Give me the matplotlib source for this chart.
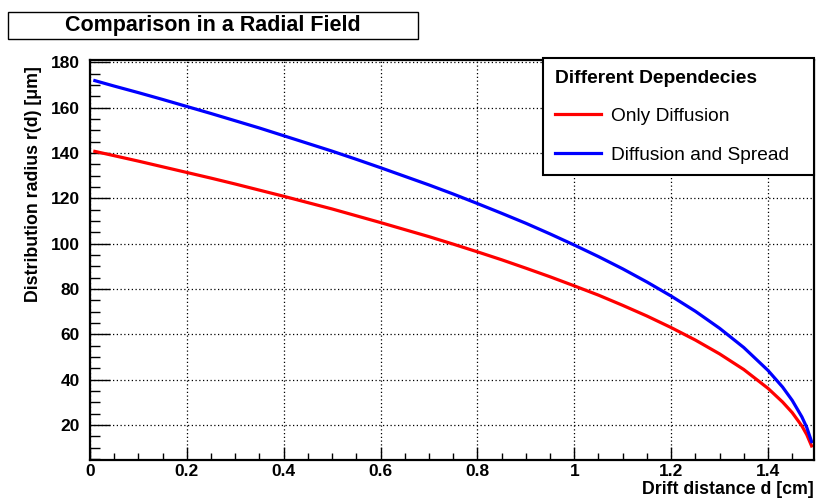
import matplotlib
matplotlib.use("Agg")
import matplotlib.pyplot as plt
from matplotlib.patches import Rectangle
from matplotlib.ticker import MultipleLocator

plt.rcParams['font.family'] = ['Liberation Sans', 'DejaVu Sans']

# drift distance d [cm]
distancia = [0.01, 0.05, 0.10, 0.15, 0.20, 0.25, 0.30, 0.35, 0.40, 0.45,
             0.50, 0.55, 0.60, 0.65, 0.70, 0.75, 0.80, 0.85, 0.90, 0.95,
             1.00, 1.05, 1.10, 1.15, 1.20, 1.25, 1.30, 1.35, 1.40, 1.43,
             1.45, 1.47, 1.48, 1.49]
# r(d) [um], only diffusion
so_difusao = [140.7, 138.8, 136.4, 133.9, 131.4, 128.9, 126.3, 123.6, 120.9, 118.1,
              115.3, 112.3, 109.3, 106.2, 103.1, 99.8, 96.4, 92.9, 89.2, 85.4,
              81.4, 77.3, 72.8, 68.1, 63.0, 57.5, 51.4, 44.5, 36.2, 30.2,
              25.5, 19.6, 15.8, 10.8]
# r(d) [um], diffusion and spread
difusao_spread = [171.9, 169.5, 166.6, 163.6, 160.5, 157.4, 154.2, 151.0, 147.6, 144.2,
                  140.8, 137.2, 133.5, 129.7, 125.9, 121.9, 117.7, 113.4, 109.0, 104.3,
                  99.4, 94.3, 88.9, 83.1, 76.9, 70.2, 62.7, 54.2, 44.1, 36.8,
                  30.9, 23.6, 19.0, 12.7]

fig = plt.figure(figsize=(8.16, 5.0), dpi=100)
ax = fig.add_axes([90/816, 40/500, 724/816, 400/500])

ax.plot(distancia, so_difusao, color="#ff0000", lw=2.3, label="Only Diffusion")
ax.plot(distancia, difusao_spread, color="#0000ff", lw=2.3, label="Diffusion and Spread")

ax.set_xlim(0, 1.495)
ax.set_ylim(4.6, 181)
ax.xaxis.set_major_locator(MultipleLocator(0.2))
ax.xaxis.set_minor_locator(MultipleLocator(0.05))
ax.yaxis.set_major_locator(MultipleLocator(20))
ax.yaxis.set_minor_locator(MultipleLocator(5))
ax.set_xticks([0, 0.2, 0.4, 0.6, 0.8, 1.0, 1.2, 1.4])
ax.set_xticklabels(["0", "0.2", "0.4", "0.6", "0.8", "1", "1.2", "1.4"])
ax.set_yticks([20, 40, 60, 80, 100, 120, 140, 160, 180])

ax.grid(True, which="major", color="black", linestyle=(0, (1, 2)), lw=0.9)
ax.tick_params(axis="x", which="major", direction="in", length=9.5, width=1, pad=3, labelsize=12.5)
ax.tick_params(axis="x", which="minor", direction="in", length=5, width=1)
ax.tick_params(axis="y", which="major", direction="in", length=14.5, width=1, pad=7.5, labelsize=12.5)
ax.tick_params(axis="y", which="minor", direction="in", length=7.5, width=1)
for lab in ax.get_xticklabels() + ax.get_yticklabels():
    lab.set_fontweight("bold")
for s in ax.spines.values():
    s.set_linewidth(1.6)

ax.set_xlabel("Drift distance d [cm]", loc="right", fontsize=12.8, fontweight="bold")
ax.xaxis.set_label_coords(1.0, -0.052)
ax.set_ylabel("Distribution radius r(d) [μm]", loc="top", fontsize=12.8, fontweight="bold")
ax.yaxis.set_label_coords(-0.066, 0.985)

leg = ax.legend(loc="upper left", bbox_to_anchor=(0.6257, 0.705, 0.3743, 0.3), mode="expand",
                borderaxespad=0, title="Different Dependecies",
                title_fontproperties={"weight": "bold", "size": 13.8}, fontsize=13.8,
                alignment="left", fancybox=False, framealpha=1, edgecolor="black",
                handlelength=2.45, handletextpad=0.52, labelspacing=1.1, borderpad=0.6)
leg.get_frame().set_linewidth(1.5)

# title box
fig.patches.append(Rectangle((8/816, 1 - 39/500), 410/816, 27/500, transform=fig.transFigure,
                             facecolor="white", edgecolor="black", lw=1))
fig.text(213/816, 1 - 26/500, "Comparison in a Radial Field", ha="center", va="center",
         fontsize=15.5, fontweight="bold")

fig.savefig("out.png", dpi=100)
